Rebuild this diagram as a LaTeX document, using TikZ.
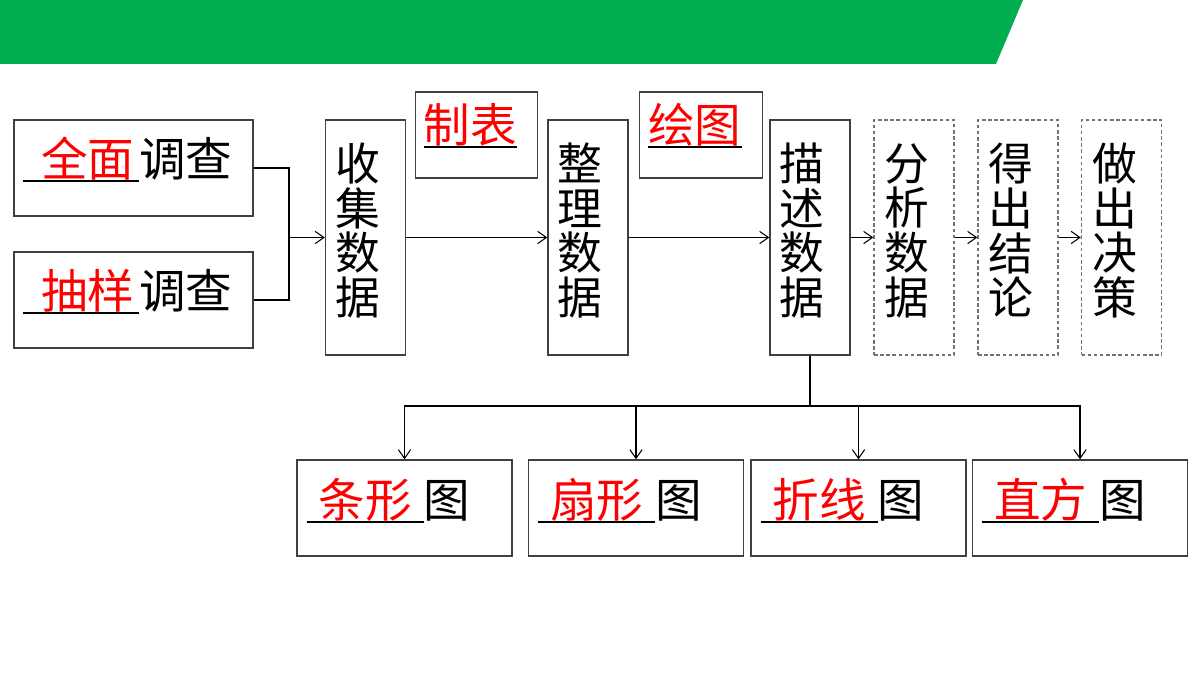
\documentclass[tikz,border=0pt]{standalone}
\usepackage{fontspec}
\newfontfamily\cjk{Noto Sans CJK SC}
\usetikzlibrary{arrows.meta}
\definecolor{bandgreen}{RGB}{0,173,80}
\tikzset{
  box/.style={draw=black!75, line width=0.8pt, inner sep=0pt},
  tallbox/.style={box, minimum width=1.6cm, minimum height=4.7cm},
  dashbox/.style={tallbox, draw=black!55, dash pattern=on 2pt off 1.5pt},
  widebox/.style={box, minimum width=4.78cm, minimum height=1.92cm},
  lowbox/.style={box, minimum width=4.3cm, minimum height=1.92cm},
  tabbox/.style={box, minimum width=2.45cm, minimum height=1.72cm},
  vtext/.style={font=\cjk\fontsize{25.5}{25.4}\selectfont, align=center, inner sep=0pt},
  htext/.style={font=\cjk\fontsize{26.5}{27}\selectfont, inner sep=0pt, anchor=base west},
  flow/.style={line width=0.6pt, -{Straight Barb[length=5pt, width=7pt]}}
}
\newcommand{\blank}[2]{\leavevmode\rlap{\rule[-0.13em]{#1}{1.1pt}}\makebox[#1][r]{\color{red}#2}}
\begin{document}
\begin{tikzpicture}[x=0.02cm, y=-0.02cm]
\useasboundingbox (0,0) rectangle (1200,675);

\fill[bandgreen] (0,0) -- (1023,0) -- (996,64) -- (0,64) -- cycle;

% survey boxes
\node[widebox] (qm) at (133.5,168) {};
\node[widebox] (cy) at (133.5,300) {};
\node[htext] (qmt) at ([shift={(9,57)}]qm.north west) {\blank{2.5em}{全面\hspace{0.1em}}调查};
\node[htext] (cyt) at ([shift={(9,57)}]cy.north west) {\blank{2.5em}{抽样\hspace{0.1em}}调查};

% main flow
\node[tallbox] (sj) at (365.5,237.5) {};
\node[tallbox] (zl) at (588,237.5) {};
\node[tallbox] (ms) at (810,237.5) {};
\node[dashbox] (fx) at (914,237.5) {};
\node[dashbox] (jl) at (1018,237.5) {};
\node[dashbox] (jc) at (1121.5,237.5) {};
\node[vtext] (sjt) at ([shift={(-8,-7)}]sj.center) {收\\集\\数\\据};
\node[vtext] (zlt) at ([shift={(-8,-7)}]zl.center) {整\\理\\数\\据};
\node[vtext] (mst) at ([shift={(-8,-7)}]ms.center) {描\\述\\数\\据};
\node[vtext] (fxt) at ([shift={(-7,-7)}]fx.center) {分\\析\\数\\据};
\node[vtext] (jlt) at ([shift={(-7,-7)}]jl.center) {得\\出\\结\\论};
\node[vtext] (jct) at ([shift={(-7,-7)}]jc.center) {做\\出\\决\\策};

\node[tabbox] (zb) at (476.5,135) {};
\node[tabbox] (ht) at (701,135) {};
\node[htext] (zbt) at ([shift={(9,51)}]zb.north west) {\blank{2em}{制表}};
\node[htext] (htt) at ([shift={(9,51)}]ht.north west) {\blank{2em}{绘图}};

% chart boxes
\node[lowbox] (tx) at (404.5,508) {};
\node[lowbox] (sx) at (636,508) {};
\node[lowbox] (zx) at (858.5,508) {};
\node[lowbox] (zf) at (1080,508) {};
\node[htext] (txt) at ([shift={(10,58)}]tx.north west) {\blank{2.51em}{条形\hspace{0.25em}}图};
\node[htext] (sxt) at ([shift={(10,58)}]sx.north west) {\blank{2.51em}{扇形\hspace{0.25em}}图};
\node[htext] (zxt) at ([shift={(10,58)}]zx.north west) {\blank{2.51em}{折线\hspace{0.25em}}图};
\node[htext] (zft) at ([shift={(10,58)}]zf.north west) {\blank{2.51em}{直方\hspace{0.25em}}图};

\coordinate (jn) at (289,237.5);
\coordinate (br) at (810,406);

\draw[line width=0.6pt] (qm.east) -| (jn) |- (cy.east);
\draw[flow] (jn) -- (sj.west);
\draw[flow] (sj.east) -- (zl.west);
\draw[flow] (zl.east) -- (ms.west);
\draw[flow] (ms.east) -- (fx.west);
\draw[flow] (fx.east) -- (jl.west);
\draw[flow] (jl.east) -- (jc.west);

\draw[line width=1.2pt] (ms.south) -- (br);
\foreach \c in {tx,sx,zx,zf}
  \draw[flow] (br) -| (\c.north);
\end{tikzpicture}
\end{document}
